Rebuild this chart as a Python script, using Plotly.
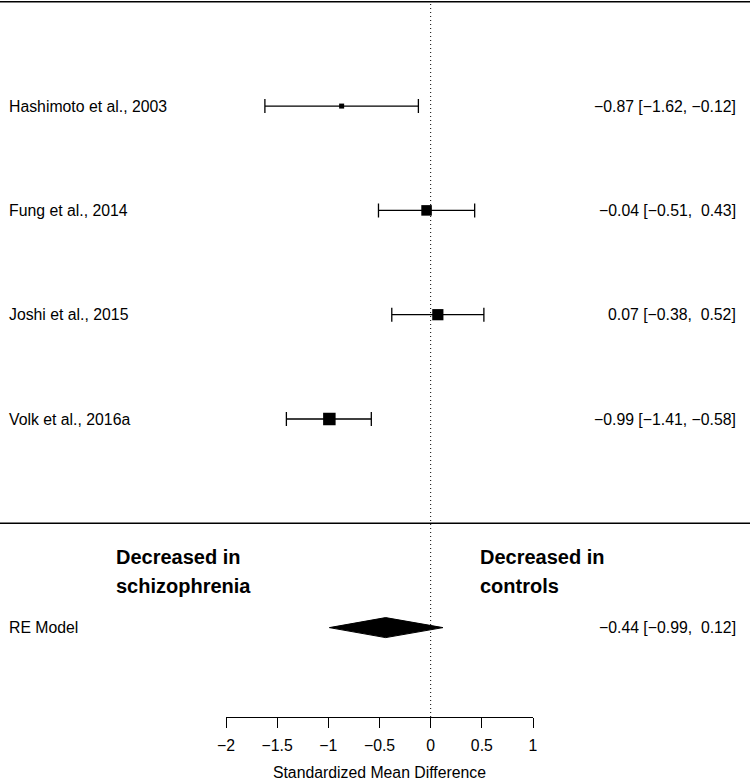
import plotly.graph_objects as go

# ---- data ----
studies = ["Hashimoto et al., 2003", "Fung et al., 2014", "Joshi et al., 2015", "Volk et al., 2016a"]
est = [-0.87, -0.04, 0.07, -0.99]
ci_lower = [-1.62, -0.51, -0.38, -1.41]
ci_upper = [-0.12, 0.43, 0.52, -0.58]
rows = [4, 3, 2, 1]

re_label = "RE Model"
re_est = -0.44
re_lower = -0.99
re_upper = 0.12
re_row = -1

tick_vals = [-2, -1.5, -1, -0.5, 0, 0.5, 1]
x_title = "Standardized Mean Difference"
left_note = ["Decreased in", "schizophrenia"]
right_note = ["Decreased in", "controls"]

# ---- styling helpers ----
FONT = "Liberation Sans, Arial, sans-serif"
BOLD = "Liberation Sans Narrow, Arial Narrow, Liberation Sans, Arial, sans-serif"
FS = 15.8
W, H = 750, 781
YMIN, YMAX = -1.857, 5.017


def fmt(v):
    s = f"{v:5.2f}".replace("-", "\u2212")
    return s.replace(" ", "\u00a0")


def label(e, lo, hi):
    return f"{fmt(e).lstrip(chr(160))} [{fmt(lo)}, {fmt(hi)}]"


# square size from precision (1/SE derived from CI width)
prec = [3.92 / (u - l) for l, u in zip(ci_lower, ci_upper)]
pmin, pmax = min(prec), max(prec)
sizes = [5 + (p - pmin) / (pmax - pmin) * 7.5 for p in prec]

fig = go.Figure()

fig.add_trace(go.Scatter(
    x=est, y=rows, mode="markers",
    marker=dict(symbol="square", size=sizes, color="#000000", opacity=1, line=dict(width=0)),
    error_x=dict(type="data", symmetric=False,
                 array=[u - e for e, u in zip(est, ci_upper)],
                 arrayminus=[e - l for e, l in zip(est, ci_lower)],
                 color="#000000", thickness=1.3, width=7),
    showlegend=False, hoverinfo="skip", cliponaxis=False,
))

dh = 0.096
fig.add_trace(go.Scatter(
    x=[re_lower, re_est, re_upper, re_est, re_lower],
    y=[re_row, re_row + dh, re_row, re_row - dh, re_row],
    mode="lines", fill="toself", fillcolor="black",
    line=dict(color="black", width=1),
    showlegend=False, hoverinfo="skip",
))

shapes = [
    dict(type="line", xref="x", yref="y", x0=0, x1=0, y0=YMIN, y1=5,
         line=dict(color="black", width=1, dash="1px,3px"), layer="below"),
    dict(type="line", xref="paper", yref="y", x0=0, x1=1, y0=5, y1=5,
         line=dict(color="black", width=1.5)),
    dict(type="line", xref="paper", yref="y", x0=0, x1=1, y0=0, y1=0,
         line=dict(color="black", width=1.5)),
]

annotations = []


def txt(x_px, y, text, anchor, font):
    annotations.append(dict(x=x_px / W, y=y, xref="paper", yref="y", text=text,
                            xanchor=anchor, yanchor="middle", showarrow=False,
                            borderpad=0, font=font))


reg = dict(family=FONT, size=FS, color="black")
for name, e, lo, hi, r in zip(studies, est, ci_lower, ci_upper, rows):
    txt(8, r, name, "left", reg)
    txt(737, r, label(e, lo, hi), "right", reg)
txt(8, re_row, re_label, "left", reg)
txt(737, re_row, label(re_est, re_lower, re_upper), "right", reg)

bold = dict(family=BOLD, size=20, color="black", weight="bold")
for line_text, yy in zip(left_note, [-0.323, -0.601]):
    txt(115, yy, line_text, "left", bold)
for line_text, yy in zip(right_note, [-0.323, -0.601]):
    txt(479, yy, line_text, "left", bold)

fig.update_layout(
    width=W, height=H, autosize=False,
    margin=dict(l=0, r=0, t=0, b=64, pad=0, autoexpand=False),
    paper_bgcolor="white", plot_bgcolor="white",
    shapes=shapes, annotations=annotations,
    xaxis=dict(domain=[226 / W, 533 / W], range=[-2, 1], tickvals=tick_vals,
               automargin=False,
               showline=True, linecolor="black", linewidth=1,
               ticks="outside", ticklen=10, tickwidth=1, tickcolor="black",
               ticklabelstandoff=4,
               showgrid=False, zeroline=False,
               tickfont=dict(family=FONT, size=FS, color="black"),
               title=dict(text=x_title, font=dict(family=FONT, size=FS, color="black"), standoff=14)),
    yaxis=dict(range=[YMIN, YMAX], visible=False, automargin=False, showgrid=False, zeroline=False),
)

fig.write_html("out.html", config={"displayModeBar": False},
               post_script="document.body.style.margin='0';document.body.style.padding='0';")
